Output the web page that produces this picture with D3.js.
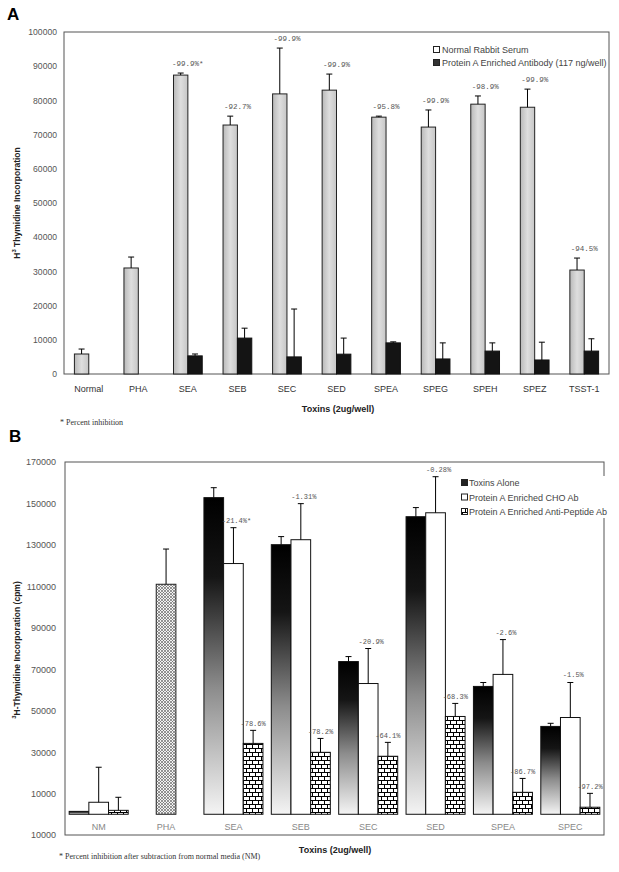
<!DOCTYPE html>
<html><head><meta charset="utf-8">
<script src="https://cdn.jsdelivr.net/npm/d3@7"></script>
<style>body{margin:0;background:#fff}svg{display:block}</style>
</head><body>
<svg id="c" width="619" height="872"></svg>
<script>
// ---------- Panel A data ----------
const catsA = ["Normal","PHA","SEA","SEB","SEC","SED","SPEA","SPEG","SPEH","SPEZ","TSST-1"];
const serumA = [5850, 31000, 87400, 72800, 81900, 83000, 75100, 72200, 78900, 78000, 30400];
const serumErrA = [1450, 3200, 600, 2600, 13400, 4700, 300, 5000, 2400, 5300, 3500];
const protA = [null, null, 5300, 10500, 5000, 5800, 9100, 4400, 6700, 4100, 6700];
const protErrA = [null, null, 550, 2900, 14000, 4700, 300, 4700, 2400, 5200, 3600];
const pctA = ["", "", "-99.9%*", "-92.7%", "-99.9%", "-99.9%", "-95.8%", "-99.9%", "-98.9%", "-99.9%", "-94.5%"];
const ticksA = [0,10000,20000,30000,40000,50000,60000,70000,80000,90000,100000];
const legendA = ["Normal Rabbit Serum","Protein A Enriched Antibody (117 ng/well)"];

// ---------- Panel B data ----------
const catsB = ["NM","PHA","SEA","SEB","SEC","SED","SPEA","SPEC"];
const toxB = [1400, null, 152800, 130100, 73700, 143600, 61700, 42400];
const toxErrB = [0, null, 4800, 3900, 2400, 4400, 1900, 1500];
const choB = [5800, null, 121000, 132500, 63100, 145500, 67500, 46700];
const choErrB = [16900, null, 17300, 17400, 16900, 17400, 16800, 16900];
const pepB = [1900, null, 34200, 29900, 28000, 47200, 10600, 3400];
const pepErrB = [6300, null, 6300, 6700, 6700, 6300, 6700, 6700];
const phaB = [null, 111000, null, null, null, null, null, null];
const phaErrB = [null, 17000, null, null, null, null, null, null];
const choPctB = ["", "", "-21.4%*", "-1.31%", "-20.9%", "-0.28%", "-2.6%", "-1.5%"];
const pepPctB = ["", "", "-78.6%", "-78.2%", "-64.1%", "-68.3%", "-86.7%", "-97.2%"];
const ticksB = [-10000,10000,30000,50000,70000,90000,110000,130000,150000,170000];
const legendB = ["Toxins Alone","Protein A Enriched CHO Ab","Protein A Enriched Anti-Peptide Ab"];

const svg = d3.select("#c");
svg.append("rect").attr("width",619).attr("height",872).attr("fill","#fff");
const defs = svg.append("defs");
const gg = defs.append("linearGradient").attr("id","grayA").attr("x1",0).attr("x2",1).attr("y1",0).attr("y2",0);
[[0,"#b9b9b9"],[0.5,"#dedede"],[1,"#c6c6c6"]].forEach(s=>gg.append("stop").attr("offset",s[0]).attr("stop-color",s[1]));
const dg = defs.append("linearGradient").attr("id","darkB").attr("x1",0).attr("x2",0).attr("y1",0).attr("y2",1);
[[0,"#000"],[0.25,"#151515"],[0.6,"#8c8c8c"],[1,"#f4f4f4"]].forEach(s=>dg.append("stop").attr("offset",s[0]).attr("stop-color",s[1]));
const brick = defs.append("pattern").attr("id","brick").attr("patternUnits","userSpaceOnUse").attr("width",12).attr("height",8);
brick.append("rect").attr("width",12).attr("height",8).attr("fill","#fff");
brick.append("path").attr("d","M0,0.5H12M0,4.5H12M0.5,0.5V4.5M6.5,0.5V4.5M3.5,4.5V8.5M9.5,4.5V8.5").attr("stroke","#000").attr("stroke-width",1).attr("fill","none");
const dots = defs.append("pattern").attr("id","dots").attr("patternUnits","userSpaceOnUse").attr("width",3).attr("height",3);
dots.append("rect").attr("width",3).attr("height",3).attr("fill","#f2f2f2");
dots.append("path").attr("d","M0,0L3,3M3,0L0,3").attr("stroke","#6a6a6a").attr("stroke-width",0.7);

const sans = "Liberation Sans, Arial, sans-serif";
const mono = "Liberation Mono, monospace";
const serif = "Liberation Serif, Times New Roman, serif";

function errBar(g, x, y0, y1, cap){
  g.append("line").attr("x1",x).attr("x2",x).attr("y1",y0).attr("y2",y1).attr("stroke","#000").attr("stroke-width",1);
  g.append("line").attr("x1",x-cap/2).attr("x2",x+cap/2).attr("y1",y1).attr("y2",y1).attr("stroke","#000").attr("stroke-width",1);
}

// ================= Panel A =================
const xA = d3.scaleBand().domain(catsA).range([64,609]);
const yA = d3.scaleLinear().domain([0,100000]).range([374,32]);
const bwA = xA.bandwidth()*0.29;
const gA = svg.append("g");
gA.append("text").attr("x",7).attr("y",20).attr("font-family",sans).attr("font-weight","bold").attr("font-size",17).text("A");
gA.append("rect").attr("x",64).attr("y",32).attr("width",545).attr("height",342).attr("fill","none").attr("stroke","#555").attr("stroke-width",1);
const axA = gA.append("g").attr("transform","translate(64,0)").call(d3.axisLeft(yA).tickValues(ticksA).tickSize(0).tickPadding(7).tickFormat(d3.format("d")));
axA.select(".domain").remove();
axA.selectAll("text").attr("font-family",sans).attr("font-size",8.6).attr("fill","#555");

catsA.forEach((c,i)=>{
  const cx = xA(c)+xA.bandwidth()/2;
  // serum bar
  const v = serumA[i];
  gA.append("rect").attr("x",cx-bwA).attr("y",yA(v)).attr("width",bwA).attr("height",yA(0)-yA(v))
    .attr("fill","url(#grayA)").attr("stroke","#222").attr("stroke-width",1);
  errBar(gA, cx-bwA/2, yA(v), yA(v+serumErrA[i]), 6);
  if(protA[i]!=null){
    const p = protA[i];
    gA.append("rect").attr("x",cx).attr("y",yA(p)).attr("width",bwA).attr("height",yA(0)-yA(p))
      .attr("fill","#141414").attr("stroke","#111").attr("stroke-width",1);
    errBar(gA, cx+bwA/2, yA(p), yA(p+protErrA[i]), 6);
  }
  if(pctA[i]) gA.append("text").attr("x",cx).attr("y",yA(v+serumErrA[i])-7).attr("text-anchor","middle")
    .attr("font-family",mono).attr("font-size",7.5).attr("fill","#555").text(pctA[i]);
  gA.append("text").attr("x",cx).attr("y",392).attr("text-anchor","middle").attr("font-family",sans).attr("font-size",9).attr("fill","#333").text(c);
});
// legend A
legendA.forEach((t,i)=>{
  const y = 50+i*13;
  gA.append("rect").attr("x",433.5).attr("y",y-3.5).attr("width",6).attr("height",6)
    .attr("fill", i===0?"#fff":"#333").attr("stroke","#222").attr("stroke-width",1);
  gA.append("text").attr("x",442).attr("y",y+3).attr("font-family",sans).attr("font-size",9).attr("fill","#444").text(t);
});
const ytA = gA.append("text").attr("transform","translate(20,203) rotate(-90)").attr("text-anchor","middle")
  .attr("font-family",sans).attr("font-weight","bold").attr("font-size",8.5).attr("fill","#222");
ytA.append("tspan").text("H");
ytA.append("tspan").attr("font-size",6).attr("dy",-4).text("3");
ytA.append("tspan").attr("dy",4).text(" Thymidine Incorporation");
gA.append("text").attr("x",338).attr("y",412).attr("text-anchor","middle").attr("font-family",sans).attr("font-weight","bold").attr("font-size",9).attr("fill","#222").text("Toxins (2ug/well)");
gA.append("text").attr("x",60).attr("y",425).attr("font-family",serif).attr("font-size",8).attr("fill","#333").text("*  Percent inhibition");

// ================= Panel B =================
const xB = d3.scaleBand().domain(catsB).range([65,604]);
const yB = d3.scaleLinear().domain([-10000,170000]).range([835,462]);
const bwB = xB.bandwidth()*0.292;
const gB = svg.append("g");
gB.append("text").attr("x",9).attr("y",442).attr("font-family",sans).attr("font-weight","bold").attr("font-size",17).text("B");
gB.append("rect").attr("x",65).attr("y",462).attr("width",539).attr("height",373).attr("fill","none").attr("stroke","#555").attr("stroke-width",1);
const axB = gB.append("g").attr("transform","translate(65,0)").call(d3.axisLeft(yB).tickValues(ticksB).tickSize(0).tickPadding(9).tickFormat(d=>String(Math.abs(d))));
axB.select(".domain").remove();
axB.selectAll("text").attr("font-family",sans).attr("font-size",9).attr("fill","#555");

catsB.forEach((c,i)=>{
  const cx = xB(c)+xB.bandwidth()/2;
  if(phaB[i]!=null){
    const v = phaB[i];
    gB.append("rect").attr("x",cx-bwB/2).attr("y",yB(v)).attr("width",bwB).attr("height",yB(0)-yB(v))
      .attr("fill","url(#dots)").attr("stroke","#222").attr("stroke-width",1);
    errBar(gB, cx, yB(v), yB(v+phaErrB[i]), 6);
  }
  if(toxB[i]!=null){
    const x0 = cx-1.5*bwB;
    const t = toxB[i];
    gB.append("rect").attr("x",x0).attr("y",yB(t)).attr("width",bwB).attr("height",yB(0)-yB(t))
      .attr("fill","url(#darkB)").attr("stroke","#111").attr("stroke-width",1);
    if(toxErrB[i]>0) errBar(gB, x0+bwB/2, yB(t), yB(t+toxErrB[i]), 6);
    const h = choB[i];
    gB.append("rect").attr("x",x0+bwB).attr("y",yB(h)).attr("width",bwB).attr("height",yB(0)-yB(h))
      .attr("fill","#fff").attr("stroke","#111").attr("stroke-width",1);
    errBar(gB, cx, yB(h), yB(h+choErrB[i]), 6);
    const p = pepB[i];
    gB.append("rect").attr("x",x0+2*bwB).attr("y",yB(p)).attr("width",bwB).attr("height",yB(0)-yB(p))
      .attr("fill","url(#brick)").attr("stroke","#111").attr("stroke-width",1);
    errBar(gB, x0+2.5*bwB, yB(p), yB(p+pepErrB[i]), 6);
    if(choPctB[i]) gB.append("text").attr("x",cx+3).attr("y",yB(h+choErrB[i])-5).attr("text-anchor","middle")
      .attr("font-family",mono).attr("font-size",7).attr("fill","#555").text(choPctB[i]);
    if(pepPctB[i]) gB.append("text").attr("x",x0+2.5*bwB).attr("y",yB(p+pepErrB[i])-4).attr("text-anchor","middle")
      .attr("font-family",mono).attr("font-size",7).attr("fill","#555").text(pepPctB[i]);
  }
  gB.append("text").attr("x",cx).attr("y",830).attr("text-anchor","middle").attr("font-family",sans).attr("font-size",9).attr("fill","#888").text(c);
});
// legend B
const lgB = gB.append("g");
lgB.append("rect").attr("x",459).attr("y",476).attr("width",148).attr("height",42).attr("fill","#fff");
legendB.forEach((t,i)=>{
  const y = 483+i*14.5;
  lgB.append("rect").attr("x",461.5).attr("y",y-3.5).attr("width",6).attr("height",6)
    .attr("fill", i===0?"#222":(i===1?"#fff":"url(#brick)")).attr("stroke","#222").attr("stroke-width",1);
  lgB.append("text").attr("x",469).attr("y",y+3).attr("font-family",sans).attr("font-size",9).attr("fill","#444").text(t);
});
const ytB = gB.append("text").attr("transform","translate(20,650) rotate(-90)").attr("text-anchor","middle")
  .attr("font-family",sans).attr("font-weight","bold").attr("font-size",8.5).attr("fill","#222");
ytB.append("tspan").attr("font-size",6).attr("dy",-4).text("3");
ytB.append("tspan").attr("dy",4).text("H-Thymidine Incorporation (cpm)");
gB.append("text").attr("x",335).attr("y",853).attr("text-anchor","middle").attr("font-family",sans).attr("font-weight","bold").attr("font-size",9).attr("fill","#222").text("Toxins (2ug/well)");
gB.append("text").attr("x",59).attr("y",859).attr("font-family",serif).attr("font-size",8).attr("fill","#333").text("*  Percent inhibition after subtraction from normal media (NM)");
</script>
</body></html>
